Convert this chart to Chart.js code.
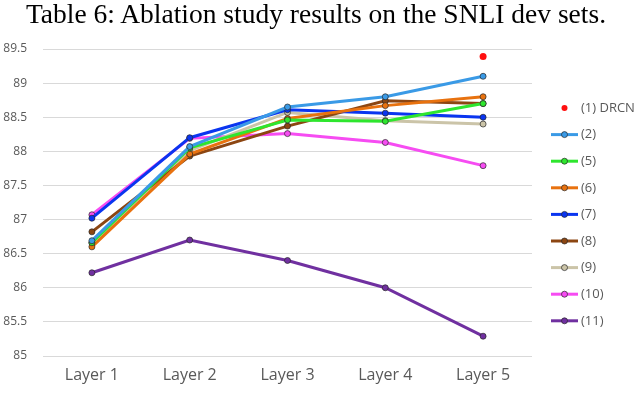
<!DOCTYPE html>
<html>
<head>
<meta charset="utf-8">
<script src="https://cdn.jsdelivr.net/npm/chart.js@4/dist/chart.umd.min.js"></script>
<style>
  html, body { margin: 0; padding: 0; background: #fff; }
  #wrap { position: relative; width: 640px; height: 394px; }
  #title {
    position: absolute; left: 0; top: 0; width: 632px; text-align: center;
    font-family: 'Liberation Serif', 'Times New Roman', serif; font-size: 27.5px; line-height: 27px;
    color: #000; white-space: nowrap;
  }
  canvas { position: absolute; left: 0; top: 0; }
</style>
</head>
<body>
<div id="wrap">
  <canvas id="lineChart" width="640" height="394"></canvas>
  <div id="title">Table 6: Ablation study results on the SNLI dev sets.</div>
</div>
<script>
// categories and series
const layers = ["Layer 1", "Layer 2", "Layer 3", "Layer 4", "Layer 5"];
const seriesNames = ["(1) DRCN", "(2)", "(5)", "(6)", "(7)", "(8)", "(9)", "(10)", "(11)"];
const drcn = [null, null, null, null, 89.39];
const abl2 = [86.69, 88.07, 88.65, 88.80, 89.10];
const abl5 = [86.66, 88.05, 88.46, 88.44, 88.70];
const abl6 = [86.60, 87.96, 88.48, 88.67, 88.80];
const abl7 = [87.02, 88.20, 88.61, 88.56, 88.50];
const abl8 = [86.82, 87.93, 88.37, 88.74, 88.70];
const abl9 = [86.66, 88.01, 88.57, 88.45, 88.40];
const abl10 = [87.07, 88.19, 88.26, 88.13, 87.79];
const abl11 = [86.22, 86.70, 86.40, 86.00, 85.29];
const yMin = 85, yMax = 89.5, yStep = 0.5;

const colors = ["#ff1010", "#3a9ae6", "#2ee62e", "#e8720f", "#0a35f0", "#8c4612", "#cbc4a8", "#f64cf2", "#7030a0"];
const allSeries = [drcn, abl2, abl5, abl6, abl7, abl8, abl9, abl10, abl11];

const datasets = allSeries.map(function (vals, i) {
    return {
        label: seriesNames[i],
        data: vals,
        borderColor: colors[i],
        backgroundColor: colors[i],
        borderWidth: 3,
        pointRadius: i === 0 ? 3.5 : 3,
        pointBorderWidth: i === 0 ? 0 : 1,
        pointBorderColor: i === 0 ? colors[i] : "rgba(40,40,40,0.7)",
        pointBackgroundColor: colors[i],
        showLine: i !== 0,
        tension: 0
    };
});

// legend on the right: line with a dot, drawn by hand
const sideLegend = {
    id: "sideLegend",
    afterDraw(chart) {
        const ctx = chart.ctx;
        const x0 = 551, x1 = 578, top = 108, step = 26.6;
        ctx.save();
        ctx.font = "13px 'Open Sans', sans-serif";
        ctx.textBaseline = "middle";
        chart.data.datasets.forEach(function (ds, i) {
            const y = top + i * step;
            if (ds.showLine !== false) {
                ctx.strokeStyle = ds.borderColor;
                ctx.lineWidth = 3;
                ctx.beginPath();
                ctx.moveTo(x0, y);
                ctx.lineTo(x1, y);
                ctx.stroke();
            }
            ctx.beginPath();
            ctx.arc((x0 + x1) / 2, y, 3, 0, Math.PI * 2);
            ctx.fillStyle = ds.backgroundColor;
            ctx.fill();
            if (ds.showLine !== false) {
                ctx.strokeStyle = "rgba(40,40,40,0.7)";
                ctx.lineWidth = 1;
                ctx.stroke();
            }
            ctx.fillStyle = "#595959";
            ctx.fillText(ds.label, x1 + 3, y);
        });
        ctx.restore();
    }
};

new Chart(document.getElementById("lineChart").getContext("2d"), {
    type: "line",
    data: { labels: layers, datasets: datasets },
    options: {
        responsive: false,
        animation: false,
        layout: { padding: { left: 1, right: 108, top: 49, bottom: 0 } },
        plugins: {
            legend: { display: false },
            tooltip: { enabled: false },
            title: { display: false }
        },
        scales: {
            x: {
                offset: true,
                grid: { display: false, drawTicks: false },
                border: { display: false },
                ticks: { color: "#595959", font: { family: "'Open Sans', sans-serif", size: 16 }, padding: 10 },
                afterFit: function (scale) { scale.height = 38; }
            },
            y: {
                min: yMin,
                max: yMax,
                grid: { color: "#d9d9d9", lineWidth: 1, drawTicks: false },
                border: { display: false },
                ticks: {
                    stepSize: yStep,
                    color: "#595959",
                    font: { family: "'Open Sans', sans-serif", size: 12 },
                    padding: 16,
                    callback: function (v) { return String(Math.round(v * 10) / 10); }
                },
                afterFit: function (scale) { scale.width = 42; }
            }
        }
    },
    plugins: [sideLegend]
});
</script>
</body>
</html>
